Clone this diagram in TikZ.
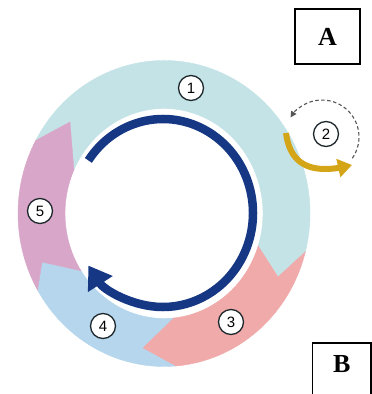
\documentclass[tikz,border=0pt]{standalone}
\usepackage{fontspec}
\setmainfont{Liberation Serif}
\newfontfamily\digitfont{Liberation Sans}
\usetikzlibrary{arrows.meta,calc}
\definecolor{segteal}{RGB}{196,227,231}
\definecolor{segsalmon}{RGB}{240,170,170}
\definecolor{segblue}{RGB}{181,214,236}
\definecolor{segmauve}{RGB}{216,166,200}
\definecolor{navy}{RGB}{22,56,132}
\definecolor{goldarrow}{RGB}{212,165,22}
\definecolor{dashgray}{RGB}{85,85,85}
\definecolor{labelink}{RGB}{30,40,45}
\begin{document}
\begin{tikzpicture}[x=1pt,y=1pt,
  lbl/.style={circle,draw=labelink,line width=1.3pt,fill=white,minimum size=25pt,inner sep=0pt,font=\digitfont\fontsize{15}{15}\selectfont},
  letterbox/.style={draw=black,line width=1.3pt,fill=white,inner sep=0pt},
  letter/.style={font=\bfseries\fontsize{26}{26}\selectfont,inner sep=0pt},
  ringpart/.style={line width=0.4pt}]
\useasboundingbox (0,0) rectangle (372,-394);
\clip (0,0) rectangle (372,-394);
\fill[white] (0,0) rectangle (372,-394);

% ring segments
\begin{scope}[shift={(164,-213.5)}]
\filldraw[ringpart,fill=segteal,draw=segteal] (151.5:146 and 153) arc[start angle=151.5,end angle=-14.5,x radius=146,y radius=153]
  -- (114,-63.5) -- (-18:99 and 105) arc[start angle=-18,end angle=155.5,x radius=99,y radius=105] -- (-94,91.5) -- cycle;
\filldraw[ringpart,fill=segsalmon,draw=segsalmon] (-14.5:146 and 153) arc[start angle=-14.5,end angle=-85.7,x radius=146,y radius=153]
  -- (-22,-134.5) -- (-84.8:99 and 105) arc[start angle=-84.8,end angle=-18,x radius=99,y radius=105] -- (114,-63.5) -- cycle;
\filldraw[ringpart,fill=segblue,draw=segblue] (-85.7:146 and 153) arc[start angle=-85.7,end angle=-150,x radius=146,y radius=153]
  -- (-122,-48.5) -- (-147:99 and 105) arc[start angle=-147,end angle=-84.8,x radius=99,y radius=105] -- (-22,-134.5) -- cycle;
\filldraw[ringpart,fill=segmauve,draw=segmauve] (-150:146 and 153) arc[start angle=-150,end angle=-208.5,x radius=146,y radius=153]
  -- (-94,91.5) -- (-204.5:99 and 105) arc[start angle=-204.5,end angle=-147,x radius=99,y radius=105] -- (-122,-48.5) -- cycle;
\end{scope}

% dark cycle arrow
\coordinate (cyc) at (163,-213);
\draw[navy,line width=8.5pt,-{Triangle[length=22pt,width=28pt]}]
  ($(cyc)+(146:90 and 94)$) arc[start angle=146,end angle=-146,x radius=90,y radius=94];

% gold arrow
\coordinate (g1) at (286,-133);
\coordinate (g2) at (352,-165);
\draw[goldarrow,line width=6pt,-{Triangle[length=14pt,width=18pt]}]
  (g1) .. controls (289,-157) and (302,-169) .. (325,-169) .. controls (335,-169) and (343,-167) .. (g2);

% dashed loop
\coordinate (dc) at (322,-137);
\draw[dashgray,line width=1.1pt,dash pattern=on 3.5pt off 2.5pt,-{Triangle[length=6pt,width=6pt]}]
  ($(dc)+(-35:37)$) arc[start angle=-35,end angle=148,radius=37];

% labels
\node[lbl] (l1) at (191,-88) {1};
\node[lbl] (l2) at (326,-134) {2};
\node[lbl] (l3) at (231,-322) {3};
\node[lbl] (l4) at (103,-326) {4};
\node[lbl] (l5) at (40,-211) {5};

% boxes
\node[letterbox,letter,minimum width=65pt,minimum height=55pt] (boxA) at (327.5,-36.5) {A};
\node[letterbox,minimum width=58.5pt,minimum height=57pt] (boxB) at (341.75,-371.5) {};
\node[letter] (letB) at (341.7,-364) {B};
\end{tikzpicture}
\end{document}
